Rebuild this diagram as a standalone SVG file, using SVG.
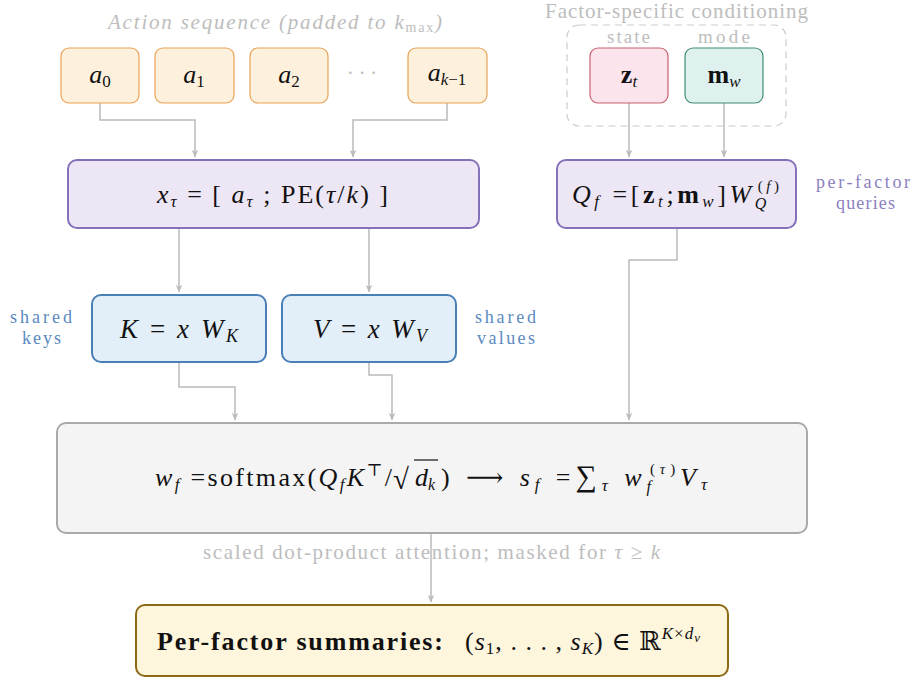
<svg xmlns="http://www.w3.org/2000/svg" width="912" height="677" viewBox="0 0 912 677" font-family="Liberation Serif, serif">
<style>
text{font-family:"Liberation Serif","DejaVu Serif",serif}
.t{fill:#111}
.m{font-style:italic;fill:#111}
.up{font-style:normal}
.it{font-style:italic}
.b{font-weight:bold;font-style:normal}
.cap{fill:#bdbdbd}
.act{fill:#fdf0dc;stroke:#e9a255;stroke-width:1.2}
.con{fill:none;stroke:#bbbbbb;stroke-width:1.5}
.pq{fill:#8a7fbf}
.sh{fill:#5a8ac0}
</style>
<defs>
<marker id="ah" markerWidth="8" markerHeight="8" refX="7" refY="4" orient="auto" markerUnits="userSpaceOnUse">
<path d="M0,0.8 L7.5,4 L0,7.2 L1.8,4 Z" fill="#bbbbbb"/>
</marker>
</defs>
<rect width="912" height="677" fill="#ffffff"/>

<text class="cap" x="108" y="29" font-size="21" font-style="italic" textLength="334">Action sequence (padded to <tspan>k</tspan><tspan font-size="14" font-style="normal" baseline-shift="-3">max</tspan>)</text>
<text class="cap" x="545" y="18" font-size="21" textLength="263">Factor-specific conditioning</text>
<rect x="567" y="25" width="219" height="101" rx="12" fill="none" stroke="#cccccc" stroke-width="1.2" stroke-dasharray="7,5"/>
<text class="cap" x="607" y="43" font-size="19" textLength="43">state</text>
<text class="cap" x="698" y="43" font-size="19" textLength="52">mode</text>

<g id="connectors">
<path class="con" d="M100,103 V120 H195 V157" marker-end="url(#ah)"/>
<path class="con" d="M447,103 V120 H353 V157" marker-end="url(#ah)"/>
<path class="con" d="M629,103 V157" marker-end="url(#ah)"/>
<path class="con" d="M724,103 V157" marker-end="url(#ah)"/>
<path class="con" d="M179,228 V292" marker-end="url(#ah)"/>
<path class="con" d="M369,228 V292" marker-end="url(#ah)"/>
<path class="con" d="M179,362 V387 H235 V420" marker-end="url(#ah)"/>
<path class="con" d="M369,362 V375 H392 V420" marker-end="url(#ah)"/>
<path class="con" d="M677,228 V260 H629 V420" marker-end="url(#ah)"/>
<path class="con" d="M431,533 V602" marker-end="url(#ah)"/>
</g>

<g id="a0"><rect class="act" x="61" y="48" width="78" height="55" rx="8"/>
<text class="m" x="100" y="83" font-size="26" text-anchor="middle">a<tspan class="up" font-size="17" baseline-shift="-4">0</tspan></text></g>
<g id="a1"><rect class="act" x="155" y="48" width="79" height="55" rx="8"/>
<text class="m" x="194" y="83" font-size="26" text-anchor="middle">a<tspan class="up" font-size="17" baseline-shift="-4">1</tspan></text></g>
<g id="a2"><rect class="act" x="250" y="48" width="78" height="55" rx="8"/>
<text class="m" x="289" y="83" font-size="26" text-anchor="middle">a<tspan class="up" font-size="17" baseline-shift="-4">2</tspan></text></g>
<text class="cap" x="362" y="80" font-size="20" text-anchor="middle">· · ·</text>
<g id="ak"><rect class="act" x="408" y="48" width="79" height="55" rx="8"/>
<text class="m" x="447" y="81" font-size="26" text-anchor="middle">a<tspan font-size="17" baseline-shift="-4">k<tspan class="up">−1</tspan></tspan></text></g>

<g id="zt"><rect x="590" y="48" width="78" height="55" rx="8" fill="#fbe4ec" stroke="#c9616f" stroke-width="1.2"/>
<text class="t" x="629" y="83" font-size="26" text-anchor="middle"><tspan class="b">z</tspan><tspan class="it" font-size="17" baseline-shift="-4">t</tspan></text></g>
<g id="mw"><rect x="685" y="48" width="78" height="55" rx="8" fill="#dff1ef" stroke="#3f8c72" stroke-width="1.2"/>
<text class="t" x="724" y="83" font-size="26" text-anchor="middle"><tspan class="b">m</tspan><tspan class="it" font-size="17" baseline-shift="-4">w</tspan></text></g>

<g id="x"><rect x="68" y="160" width="411" height="68" rx="9" fill="#ede6f5" stroke="#8571b9" stroke-width="2"/>
<text class="m" x="157" y="203" font-size="26" textLength="231">x<tspan font-size="17" baseline-shift="-4">τ</tspan><tspan class="up"> = [ </tspan>a<tspan font-size="17" baseline-shift="-4">τ</tspan><tspan class="up"> ; PE(</tspan>τ<tspan class="up">/</tspan>k<tspan class="up">) ]</tspan></text></g>

<g id="q"><rect x="557" y="160" width="239" height="68" rx="9" fill="#ede6f5" stroke="#8571b9" stroke-width="2"/>
<text class="m" x="572" y="203" font-size="26" textLength="207">Q<tspan font-size="17" baseline-shift="-4">f</tspan><tspan class="up"> =[</tspan><tspan class="b">z</tspan><tspan font-size="17" baseline-shift="-4">t</tspan><tspan class="up">;</tspan><tspan class="b">m</tspan><tspan font-size="17" baseline-shift="-4">w</tspan><tspan class="up">]</tspan>W<tspan font-size="16" baseline-shift="-6">Q</tspan><tspan font-size="15" dx="-12" baseline-shift="12"><tspan class="up">(</tspan>f<tspan class="up">)</tspan></tspan></text></g>
<text class="pq" x="816" y="188" font-size="18" textLength="94">per-factor</text>
<text class="pq" x="836" y="209" font-size="18" textLength="59">queries</text>

<g id="k"><rect x="92" y="295" width="174" height="67" rx="9" fill="#e2eff9" stroke="#4a7fb5" stroke-width="2"/>
<text class="m" x="120" y="338" font-size="27" textLength="118">K<tspan class="up"> = </tspan>x W<tspan font-size="18" baseline-shift="-4">K</tspan></text></g>
<g id="v"><rect x="282" y="295" width="174" height="67" rx="9" fill="#e2eff9" stroke="#4a7fb5" stroke-width="2"/>
<text class="m" x="313" y="338" font-size="27" textLength="114">V<tspan class="up"> = </tspan>x W<tspan font-size="18" baseline-shift="-4">V</tspan></text></g>
<text class="sh" x="10" y="323" font-size="18" textLength="62">shared</text>
<text class="sh" x="22" y="344" font-size="18" textLength="39">keys</text>
<text class="sh" x="475" y="323" font-size="18" textLength="61">shared</text>
<text class="sh" x="477" y="344" font-size="18" textLength="58">values</text>

<g id="attn"><rect x="57" y="423" width="750" height="110" rx="9" fill="#f4f4f4" stroke="#aaaaaa" stroke-width="2"/>
<text class="m" x="155" y="486" font-size="26" textLength="237">w<tspan font-size="17" baseline-shift="-4">f</tspan><tspan class="up"> =softmax(</tspan>Q<tspan font-size="17" baseline-shift="-4">f</tspan>K<tspan class="up" font-size="17" baseline-shift="10">⊤</tspan><tspan class="up">/</tspan></text>
<text class="t" x="393" y="489" font-size="29">√</text>
<line x1="414" y1="460" x2="438" y2="460" stroke="#111" stroke-width="1.2"/>
<text class="m" x="415" y="486" font-size="26">d<tspan font-size="16" baseline-shift="-4">k</tspan></text>
<text class="m" x="441" y="486" font-size="26" textLength="266"><tspan class="up">)  ⟶  </tspan>s<tspan font-size="17" baseline-shift="-4">f</tspan><tspan class="up"> =</tspan><tspan class="up" font-size="30">∑</tspan><tspan font-size="17" baseline-shift="-5">τ</tspan> w<tspan font-size="16" baseline-shift="-6">f</tspan><tspan font-size="15" dx="-6" baseline-shift="12"><tspan class="up">(</tspan>τ<tspan class="up">)</tspan></tspan>V<tspan font-size="17" baseline-shift="-4">τ</tspan></text>
</g>
<text class="cap" x="203" y="559" font-size="21" textLength="457">scaled dot-product attention; masked for <tspan font-style="italic">τ</tspan> ≥ <tspan font-style="italic">k</tspan></text>

<g id="summary"><rect x="136" y="605" width="592" height="71" rx="9" fill="#fdf5dc" stroke="#8c6a14" stroke-width="2"/>
<text class="t" x="157" y="650" font-size="26" font-weight="bold" textLength="286">Per-factor summaries:</text>
<text class="t" x="465" y="650" font-size="26" textLength="235">(<tspan class="it">s</tspan><tspan font-size="17" baseline-shift="-4">1</tspan>, . . . , <tspan class="it">s</tspan><tspan class="it" font-size="17" baseline-shift="-4">K</tspan>) ∈ ℝ<tspan font-size="17" baseline-shift="11"><tspan class="it">K</tspan>×<tspan class="it">d</tspan><tspan class="it" font-size="13" baseline-shift="-3">v</tspan></tspan></text></g>
</svg>
